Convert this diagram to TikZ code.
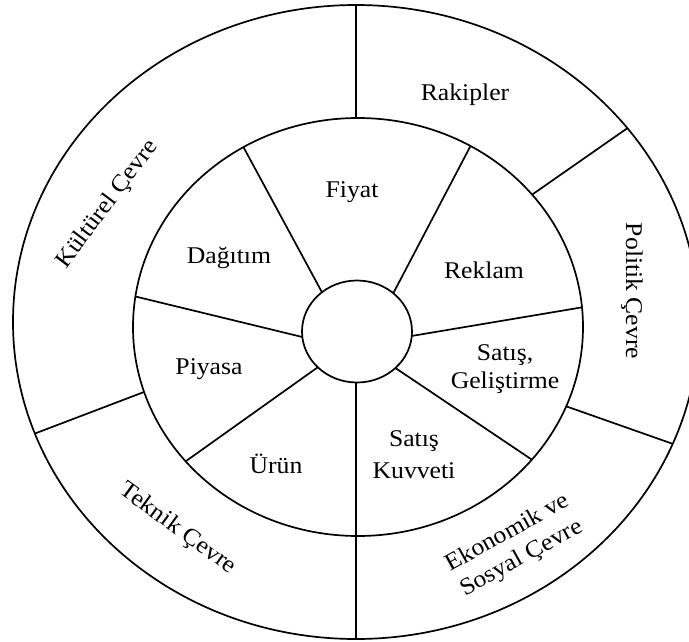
\documentclass[tikz,border=0pt]{standalone}
\usepackage{fontspec}
\setmainfont{Liberation Serif}[FakeStretch=1.07]
\usetikzlibrary{calc}
\begin{document}
\begin{tikzpicture}[x=1pt,y=-1pt,
  ring/.style={line width=1.7pt},
  lbl/.style={font=\fontsize{24}{28}\selectfont, align=center, inner sep=0pt}]
\useasboundingbox (0,0) rectangle (689,641);
\clip (0,0) rectangle (689,641);
\coordinate (O) at (356,322);
\coordinate (M) at (358,327);
\coordinate (I) at (357,331.5);
% rings
\draw[ring] (O) ellipse [x radius=343pt, y radius=317pt];
\draw[ring] (M) ellipse [x radius=225pt, y radius=209pt];
\draw[ring] (I) ellipse [x radius=55pt, y radius=51pt];
% outer ring dividers
\coordinate (oT1) at ($(M)+(269.5:225 and 209)$);
\coordinate (oT2) at ($(O)+(270:343 and 317)$);
\coordinate (oR1) at ($(M)+(320.7:225 and 209)$);
\coordinate (oR2) at ($(O)+(322.3:343 and 317)$);
\coordinate (oL1) at ($(M)+(22.3:225 and 209)$);
\coordinate (oL2) at ($(O)+(22.6:343 and 317)$);
\coordinate (oK1) at ($(M)+(161.9:225 and 209)$);
\coordinate (oK2) at ($(O)+(159.4:343 and 317)$);
\coordinate (oB2) at ($(O)+(90:343 and 317)$);
\draw[ring] (oT1) -- (oT2);
\draw[ring] (oR1) -- (oR2);
\draw[ring] (oL1) -- (oL2);
\draw[ring] (oK1) -- (oK2);
% inner spokes
\coordinate (a1) at ($(I)+(230.4:55 and 51)$);
\coordinate (a2) at ($(M)+(239.4:225 and 209)$);
\coordinate (b1) at ($(I)+(311.3:55 and 51)$);
\coordinate (b2) at ($(M)+(300:225 and 209)$);
\coordinate (c1) at ($(I)+(5:55 and 51)$);
\coordinate (c2) at ($(M)+(354.6:225 and 209)$);
\coordinate (d1) at ($(I)+(45.7:55 and 51)$);
\coordinate (d2) at ($(M)+(39.4:225 and 209)$);
\coordinate (e1) at ($(I)+(91:55 and 51)$);
\coordinate (f1) at ($(I)+(135.5:55 and 51)$);
\coordinate (f2) at ($(M)+(140:225 and 209)$);
\coordinate (g1) at ($(I)+(173.8:55 and 51)$);
\coordinate (g2) at ($(M)+(188.4:225 and 209)$);
\draw[ring] (a1) -- (a2);
\draw[ring] (b1) -- (b2);
\draw[ring] (c1) -- (c2);
\draw[ring] (d1) -- (d2);
\draw[ring] (e1) -- (e1 |- oB2);
\draw[ring] (f1) -- (f2);
\draw[ring] (g1) -- (g2);
% labels
\node[lbl] (rak) at (465,95) {Rakipler};
\node[lbl] (fiy) at (352,192) {Fiyat};
\node[lbl] (dag) at (229,258) {Dağıtım};
\node[lbl] (rek) at (484,270) {Reklam};
\node[lbl] (piy) at (209,369) {Piyasa};
\node[lbl, font=\fontsize{24}{27.4}\selectfont] (sg) at (505,369) {Satış,\\Geliştirme};
\node[lbl, font=\fontsize{24}{32}\selectfont] (sk) at (414,455) {Satış\\Kuvveti};
\node[lbl] (uru) at (276,464) {Ürün};
\node[lbl, rotate=53] (kul) at (107.6,204.4) {Kültürel Çevre};
\node[lbl, rotate=-90] (pol) at (632,291) {Politik Çevre};
\node[lbl, rotate=-36] (tek) at (177.5,529) {Teknik Çevre};
\node[lbl, rotate=29, font=\fontsize{24}{29}\selectfont] (eko) at (515,546) {Ekonomik ve\\Sosyal Çevre};
\end{tikzpicture}
\end{document}
